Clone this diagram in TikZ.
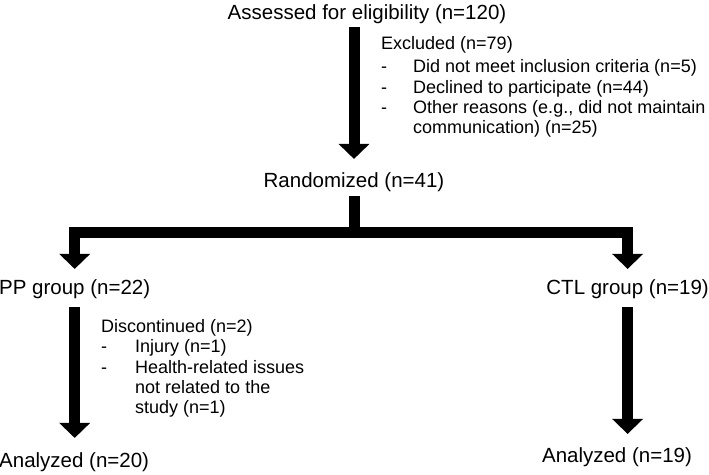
\documentclass[tikz,border=0pt]{standalone}
\usepackage{fontspec}
\setmainfont{Liberation Sans}
\usetikzlibrary{arrows.meta,positioning}
\newcommand\itemdash[1][33pt]{\makebox[#1][l]{-}}

\begin{document}
\begin{tikzpicture}[
  x=1pt, y=-1pt,
  big/.style={font=\fontsize{20.5}{24}\selectfont, inner sep=0pt},
  note/.style={font=\fontsize{18}{20.4}\selectfont, align=left,
               inner sep=0pt, anchor=north west},
  flow/.style={line width=11pt, -{Triangle[width=30pt,length=15pt]}},
  bar/.style={line width=11pt}
]
\useasboundingbox (0,0) rectangle (709,474);
\node[big, anchor=base] (assess) at (367,19) {Assessed for eligibility (n=120)};
\node[note] (excl) at (381,36) {Excluded (n=79)\\[3pt]
  \itemdash[32pt]Did not meet inclusion criteria (n=5)\\
  \itemdash[32pt]Declined to participate (n=44)\\
  \itemdash[32pt]Other reasons (e.g., did not maintain\\
  \hspace*{32pt}communication) (n=25)};
\node[big, anchor=base] (rand) at (354,187) {Randomized (n=41)};
\node[big, anchor=base west] (pp) at (-1,294) {PP group (n=22)};
\node[big, anchor=base east] (ctl) at (709,294) {CTL group (n=19)};
\node[note] (disc) at (101,319) {Discontinued (n=2)\\
  \itemdash[34pt]Injury (n=1)\\
  \itemdash[34pt]Health-related issues\\
  \hspace*{34pt}not related to the\\
  \hspace*{34pt}study (n=1)};
\node[big, anchor=base west] (an20) at (-1,467) {Analyzed (n=20)};
\node[big, anchor=base] (an19) at (617,462) {Analyzed (n=19)};
\coordinate (split) at (354,232);
\draw[flow, shorten <=4pt, shorten >=13pt] (assess.south -| rand) -- (rand);
\draw[bar, shorten <=5pt] (rand) -- (split);
\draw[flow, shorten >=10pt] (split) -| (pp);
\draw[flow, shorten >=10pt] (split) -| (ctl);
\draw[flow, shorten <=9pt, shorten >=14pt] (pp.south) -- (pp.south |- an20.north);
\draw[flow, shorten <=9pt, shorten >=13pt] (ctl.south) -- (ctl.south |- an19.north);
\end{tikzpicture}
\end{document}
